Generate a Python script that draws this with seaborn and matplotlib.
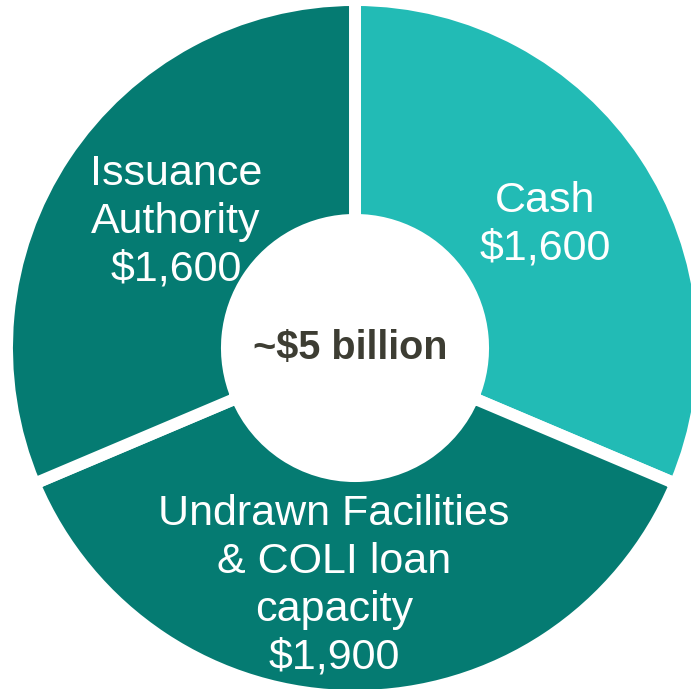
import matplotlib
matplotlib.use("Agg")
import matplotlib.pyplot as plt
import seaborn as sns

# ---- data ----
categories = ["Cash", "Undrawn Facilities\n& COLI loan\ncapacity", "Issuance\nAuthority"]
values = [1600, 1900, 1600]
value_labels = ["$1,600", "$1,900", "$1,600"]
center_label = "~$5 billion"
colors = ["#22BBB5", "#057B72", "#057B72"]

sns.set_theme(style="white")
plt.rcParams["font.family"] = ["Liberation Sans", "DejaVu Sans"]

W, H = 691, 689
fig = plt.figure(figsize=(W / 100, H / 100), dpi=100)
ax = fig.add_axes([0, 0, 1, 1])

# pixel geometry of the donut
cx, cy, R = 355, 348, 348.0

ax.pie(values, colors=colors, startangle=90, counterclock=False, radius=1.0,
       wedgeprops=dict(width=0.632, edgecolor="white", linewidth=8.6))

ax.set_xlim(-cx / R, (W - cx) / R)
ax.set_ylim(-(H - cy) / R, cy / R)
ax.set_aspect("auto")
ax.axis("off")

def px(x, y):
    return (x - cx) / R, (cy - y) / R

label_px = [(545, 225), (334, 586), (176, 222)]
for cat, val, (lx, ly) in zip(categories, value_labels, label_px):
    x, y = px(lx, ly)
    ax.text(x, y, f"{cat}\n{val}", ha="center", va="center", color="white",
            fontsize=31, linespacing=1.25)

x, y = px(350, 348)
ax.text(x, y, center_label, ha="center", va="center", color="#3D3D33",
        fontsize=28.5, fontweight="bold")

fig.savefig("out.png", dpi=100, facecolor="white")
